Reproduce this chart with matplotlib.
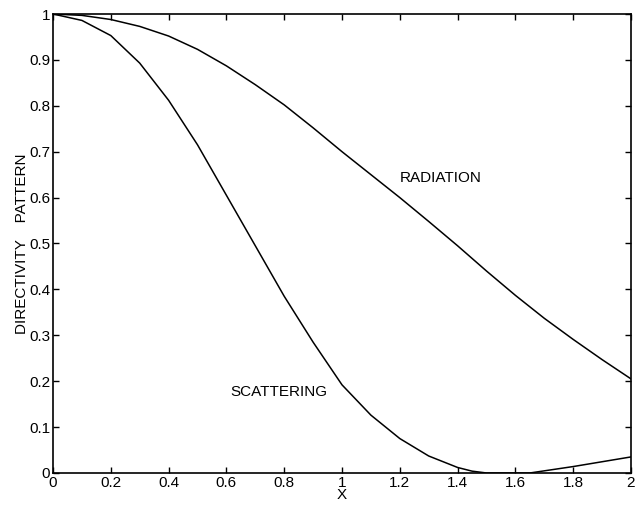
import numpy as np
import matplotlib
matplotlib.use("Agg")
import matplotlib.pyplot as plt

plt.rcParams['font.family'] = ['Liberation Sans', 'DejaVu Sans']

# values
x_rad = [0.0, 0.1, 0.2, 0.3, 0.4, 0.5, 0.6, 0.7, 0.8, 0.9, 1.0,
         1.1, 1.2, 1.3, 1.4, 1.5, 1.6, 1.7, 1.8, 1.9, 2.0]
radiation = [1.0, 0.997, 0.988, 0.973, 0.952, 0.923, 0.887, 0.846, 0.802, 0.752, 0.70,
             0.65, 0.60, 0.548, 0.495, 0.44, 0.387, 0.337, 0.291, 0.247, 0.205]

x_sca = [0.0, 0.1, 0.2, 0.3, 0.4, 0.5, 0.6, 0.7, 0.8, 0.9, 1.0,
         1.1, 1.2, 1.3, 1.4, 1.45, 1.5, 1.6, 1.65, 1.8, 2.0]
scattering = [1.0, 0.986, 0.953, 0.893, 0.812, 0.715, 0.605, 0.495, 0.385, 0.285, 0.192,
              0.126, 0.075, 0.037, 0.012, 0.004, 0.0, 0.0, 0.0, 0.014, 0.035]

xticks = [0, 0.2, 0.4, 0.6, 0.8, 1, 1.2, 1.4, 1.6, 1.8, 2]
xticklabels = ['0', '0.2', '0.4', '0.6', '0.8', '1', '1.2', '1.4', '1.6', '1.8', '2']
yticks = [0, 0.1, 0.2, 0.3, 0.4, 0.5, 0.6, 0.7, 0.8, 0.9, 1]
yticklabels = ['0', '0.1', '0.2', '0.3', '0.4', '0.5', '0.6', '0.7', '0.8', '0.9', '1']

fig = plt.figure(figsize=(6.35, 5.11), dpi=100)
ax = fig.add_axes([0.0835, 0.0744, 0.9102, 0.8982])

ax.plot(x_rad, radiation, color='black', lw=1.1)
ax.plot(x_sca, scattering, color='black', lw=1.1)

ax.text(1.34, 0.643, 'RADIATION', ha='center', va='center', fontsize=11)
ax.text(0.78, 0.177, 'SCATTERING', ha='center', va='center', fontsize=11)

ax.set_xlim(0, 2)
ax.set_ylim(0, 1)
ax.set_xticks(xticks)
ax.set_xticklabels(xticklabels)
ax.set_yticks(yticks)
ax.set_yticklabels(yticklabels)
ax.tick_params(direction='in', top=True, right=True, length=4, width=1,
               labelsize=11, pad=2)
for s in ax.spines.values():
    s.set_linewidth(1.2)

ax.set_xlabel('X', fontsize=11, labelpad=-1)
ax.set_ylabel('DIRECTIVITY    PATTERN', fontsize=11, labelpad=0)

fig.savefig('out.png', dpi=100)
